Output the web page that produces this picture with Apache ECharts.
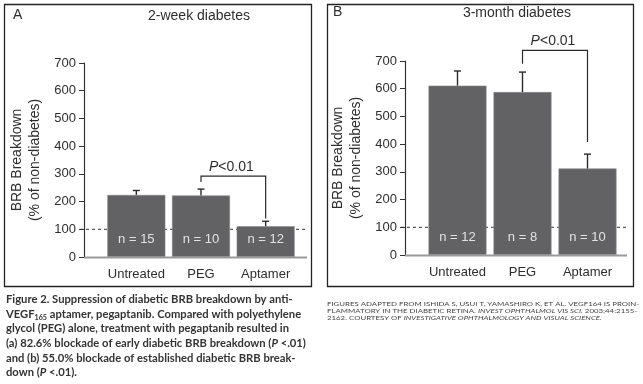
<!DOCTYPE html>
<html><head><meta charset="utf-8">
<script src="https://cdn.jsdelivr.net/npm/echarts@6/dist/echarts.min.js"></script>
<style>html,body{margin:0;padding:0;background:#fff}#c{width:643px;height:384px}</style>
</head><body><div id="c"></div>
<script>
// ---- data ----
const categories = ['Untreated', 'PEG', 'Aptamer'];
const yTicks = [0, 100, 200, 300, 400, 500, 600, 700];
// Panel A: 2-week diabetes
const aMean = [224, 222, 111];
const aUpper = [240, 245, 129];
const aN = [15, 10, 12];
const aBracket = [1, 2, 271, 292, 139]; // leftIdx, rightIdx, left leg bottom, top, right leg bottom
// Panel B: 3-month diabetes
const bMean = [611, 588, 312];
const bUpper = [664, 660, 364];
const bN = [12, 8, 10];
const bBracket = [1, 2, 690, 738, 408];
const refLine = 100;
const titles = ['2-week diabetes', '3-month diabetes'];

const FONT = '"Liberation Sans", Arial, sans-serif';
const TXT = '#2e2e2e';
const BAR = '#626264';

const chart = echarts.init(document.getElementById('c'));

function errSeries(gi, mean, upper) {
  return {
    type: 'custom', xAxisIndex: gi, yAxisIndex: gi, z: 5,
    data: mean.map((m, i) => [i, m, upper[i]]),
    encode: { x: 0, y: 2 },
    renderItem: function (params, api) {
      const p0 = api.coord([api.value(0), api.value(1)]);
      const p1 = api.coord([api.value(0), api.value(2)]);
      const st = { stroke: '#2a2a2a', lineWidth: 1.4 };
      return { type: 'group', children: [
        { type: 'line', shape: { x1: p0[0], y1: p0[1], x2: p1[0], y2: p1[1] }, style: st },
        { type: 'line', shape: { x1: p1[0] - 3.5, y1: p1[1], x2: p1[0] + 3.5, y2: p1[1] }, style: st }
      ]};
    }
  };
}
function bracketSeries(gi, br) {
  return {
    type: 'custom', xAxisIndex: gi, yAxisIndex: gi, z: 6, clip: false,
    data: [br],
    encode: { x: 0, y: 3 },
    renderItem: function (params, api) {
      const a = api.coord([api.value(0), api.value(2)]);
      const b = api.coord([api.value(0), api.value(3)]);
      const c = api.coord([api.value(1), api.value(3)]);
      const d = api.coord([api.value(1), api.value(4)]);
      return { type: 'group', children: [
        { type: 'polyline', shape: { points: [a, b, c, d] }, style: { stroke: '#2a2a2a', lineWidth: 1.2, fill: null } },
        { type: 'text', x: (b[0] + c[0]) / 2 - 2, y: b[1] - 2,
          style: { text: '{i|P}<0.01', align: 'center', verticalAlign: 'bottom', fontFamily: FONT, fontSize: 14, fill: TXT,
                   rich: { i: { fontStyle: 'italic', fontFamily: FONT, fontSize: 14, fill: TXT } } } }
      ]};
    }
  };
}
function barSeries(gi, mean, n) {
  return {
    type: 'bar', xAxisIndex: gi, yAxisIndex: gi, barWidth: 58,
    data: mean,
    itemStyle: { color: BAR, borderColor: '#8a8a8c', borderWidth: 0.6 },
    label: { show: true, position: 'insideBottom', distance: 11, color: '#e2e2e2', fontFamily: FONT, fontSize: 13,
             formatter: p => 'n = ' + n[p.dataIndex] }
  };
}
function yAx(gi) {
  return {
    gridIndex: gi, type: 'value', min: 0, max: 700, interval: 100, offset: 20,
    name: 'BRB Breakdown\n(% of non-diabetes)', nameLocation: 'middle', nameGap: 40,
    nameTextStyle: { fontFamily: FONT, fontSize: 14, color: TXT, lineHeight: 18 },
    axisLine: { show: true, lineStyle: { color: '#333', width: 1.2 } },
    axisTick: { show: true, length: 5, lineStyle: { color: '#333' } },
    axisLabel: { fontFamily: FONT, fontSize: 13, color: TXT, margin: 8, formatter: v => yTicks.includes(v) ? String(v) : '' },
    splitLine: { show: false }
  };
}
function xAx(gi) {
  return {
    gridIndex: gi, type: 'category', data: categories,
    axisLine: { show: false }, axisTick: { show: false },
    axisLabel: { interval: 0, fontFamily: FONT, fontSize: 13, color: TXT, margin: 11 }
  };
}

const option = {
  animation: false,
  backgroundColor: '#fff',
  grid: [
    { left: 104, top: 63, width: 194, height: 194 },
    { left: 425, top: 61, width: 195, height: 194 }
  ],
  xAxis: [xAx(0), xAx(1)],
  yAxis: [yAx(0), yAx(1)],
  series: [
    barSeries(0, aMean, aN), errSeries(0, aMean, aUpper), bracketSeries(0, aBracket),
    barSeries(1, bMean, bN), errSeries(1, bMean, bUpper), bracketSeries(1, bBracket)
  ]
};
chart.setOption(option);

// decorations computed from library scales
const g = [];
function axisDecor(gi, x0, x1) {
  const y0 = chart.convertToPixel({ gridIndex: gi }, [0, 0])[1];
  const y100 = chart.convertToPixel({ gridIndex: gi }, [0, refLine])[1];
  g.push({ type: 'line', z: 1, shape: { x1: x0, y1: y100, x2: x1, y2: y100 }, style: { stroke: '#333', lineWidth: 1, lineDash: [3, 3] } });
  g.push({ type: 'line', z: 20, shape: { x1: x0 + 4, y1: y0 + 0.5, x2: x1, y2: y0 + 0.5 }, style: { stroke: '#9a9a9a', lineWidth: 2 } });
}
axisDecor(0, 80, 307);
axisDecor(1, 401, 627);

g.push({ type: 'rect', shape: { x: 4.5, y: 4.5, width: 307, height: 282 }, style: { fill: null, stroke: '#222', lineWidth: 1.3 } });
g.push({ type: 'rect', shape: { x: 327.5, y: 4.5, width: 306, height: 282 }, style: { fill: null, stroke: '#222', lineWidth: 1.3 } });
g.push({ type: 'text', x: 13, y: 15, style: { text: 'A', fontFamily: FONT, fontSize: 14, fill: TXT, verticalAlign: 'middle' } });
g.push({ type: 'text', x: 333, y: 12, style: { text: 'B', fontFamily: FONT, fontSize: 14, fill: TXT, verticalAlign: 'middle' } });
g.push({ type: 'text', x: 199, y: 16, style: { text: titles[0], fontFamily: FONT, fontSize: 14, fill: TXT, align: 'center', verticalAlign: 'middle' } });
g.push({ type: 'text', x: 517, y: 13, style: { text: titles[1], fontFamily: FONT, fontSize: 14, fill: TXT, align: 'center', verticalAlign: 'middle' } });

const capFont = 'Lato, "Open Sans", sans-serif';
g.push({ type: 'text', x: 6, y: 292, scaleX: 1.02, style: {
  text: 'Figure 2. Suppression of diabetic BRB breakdown by anti-\n' +
        'VEGF{sub|165} aptamer, pegaptanib. Compared with polyethylene\n' +
        'glycol (PEG) alone, treatment with pegaptanib resulted in\n' +
        '(a) 82.6% blockade of early diabetic BRB breakdown ({i|P} <.01)\n' +
        'and (b) 55.0% blockade of established diabetic BRB break-\n' +
        'down ({i|P} <.01).',
  fontFamily: capFont, fontWeight: 'bold', fontSize: 11, lineHeight: 14.7, fill: '#333',
  rich: {
    sub: { fontFamily: capFont, fontWeight: 'bold', fontSize: 7, fill: '#333', verticalAlign: 'bottom', lineHeight: 14.7, padding: [4, 0, 0, 0] },
    i: { fontFamily: capFont, fontWeight: 'bold', fontStyle: 'italic', fontSize: 11, fill: '#333', lineHeight: 14.7 }
  }
} });
g.push({ type: 'text', x: 327, y: 300.5, scaleX: 1.265, style: {
  text: 'FIGURES ADAPTED FROM ISHIDA S, USUI T, YAMASHIRO K, ET AL. VEGF164 IS PROIN-\n' +
        'FLAMMATORY IN THE DIABETIC RETINA. {i|INVEST OPHTHALMOL VIS SCI.} 2003;44:2155-\n' +
        '2162. COURTESY OF {i|INVESTIGATIVE OPHTHALMOLOGY AND VISUAL SCIENCE.}',
  fontFamily: capFont, fontSize: 6.2, lineHeight: 7.2, fill: '#444',
  rich: { i: { fontFamily: capFont, fontStyle: 'italic', fontSize: 6.2, fill: '#444', lineHeight: 7.2 } }
} });
chart.setOption({ graphic: g });
</script></body></html>
